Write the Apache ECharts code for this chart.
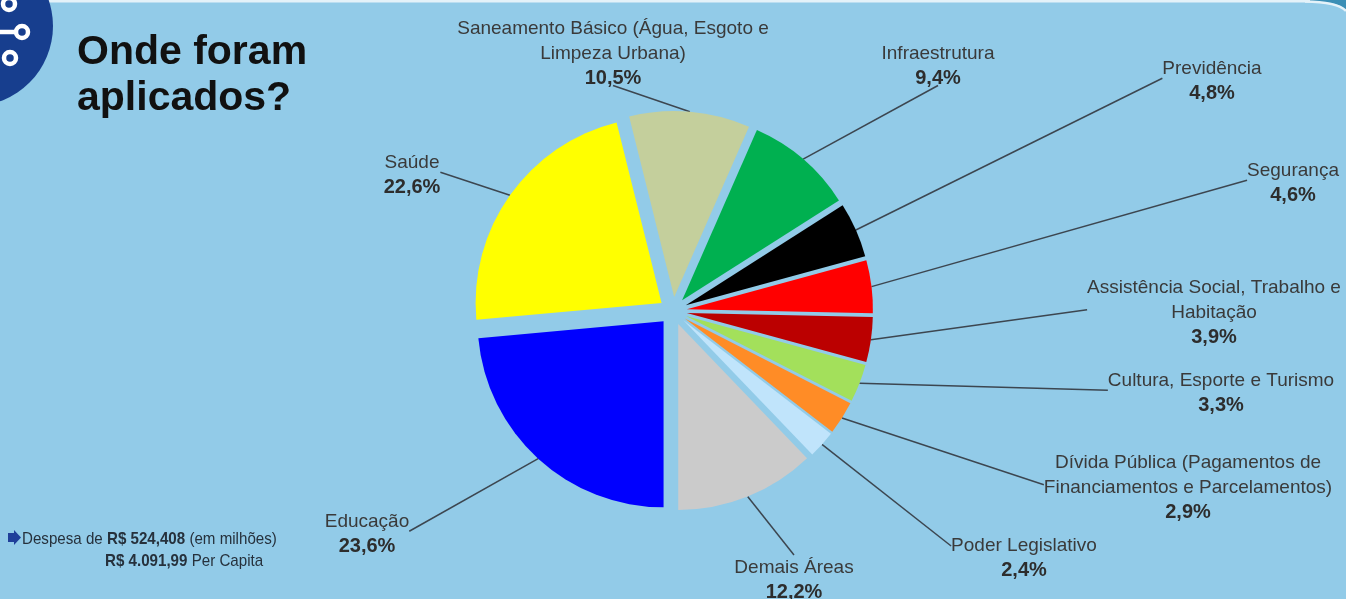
<!DOCTYPE html>
<html>
<head>
<meta charset="utf-8">
<script src="https://cdn.jsdelivr.net/npm/echarts@6/dist/echarts.min.js"></script>
<style>
html, body { margin: 0; padding: 0; background: #92cbe8; }
#chart { width: 1346px; height: 599px; }
</style>
</head>
<body>
<div id="chart"></div>
<script>
// areas in drawing order (clockwise, starting at 6 o'clock)
const categorias = [
  'Educação',
  'Saúde',
  'Saneamento Básico (Água, Esgoto e\nLimpeza Urbana)',
  'Infraestrutura',
  'Previdência',
  'Segurança',
  'Assistência Social, Trabalho e\nHabitação',
  'Cultura, Esporte e Turismo',
  'Dívida Pública (Pagamentos de\nFinanciamentos e Parcelamentos)',
  'Poder Legislativo',
  'Demais Áreas'
];
const percentuais = [23.6, 22.6, 10.5, 9.4, 4.8, 4.6, 3.9, 3.3, 2.9, 2.4, 12.2];

const despesaTotal = '524,408';
const despesaPerCapita = '4.091,99';

const FONT = '"Liberation Sans", Arial, sans-serif';

const chart = echarts.init(document.getElementById('chart'));

const cores = ['#0000ff', '#ffff00', '#c4cf9c', '#00b050', '#000000', '#ff0000',
  '#bb0000', '#a3e05b', '#ff8c26', '#c0e4fb', '#cbcbcb'];

const CENTRO = [673, 311];
const RAIO = 186;
const AFASTAMENTO = 14; // exploded slices

// where each label block sits (center x, top y) and which side the leader line meets
const posRotulos = [
  [367, 509], [412, 150], [613, 16], [938, 41], [1212, 56], [1293, 158],
  [1214, 275], [1221, 368], [1188, 450], [1024, 533], [794, 555]
];
const ladoLinha = ['r', 'r', 'b', 'b', 'l', 'l', 'l', 'l', 'l', 'lt', 't'];

function fmtPct(v) {
  return v.toFixed(1).replace('.', ',') + '%';
}

const richRodape = {
  r: { fontFamily: FONT, fontSize: 17, fill: '#26313c' },
  b: { fontFamily: FONT, fontSize: 17, fontWeight: 'bold', fill: '#26313c' }
};

const option = {
  backgroundColor: '#92cbe8',
  animation: false,
  color: cores,
  title: {
    text: 'Onde foram\naplicados?',
    left: 77,
    top: 30,
    padding: 0,
    textStyle: {
      fontFamily: FONT,
      fontSize: 41,
      fontWeight: 'bold',
      lineHeight: 46,
      color: '#111111'
    }
  },
  graphic: [
    { type: 'rect', shape: { x: 0, y: 0, width: 1346, height: 2.5 }, style: { fill: '#e4f2f9' } },
    {
      type: 'polygon',
      shape: { points: [[1310, 0], [1346, 0], [1346, 11], [1341, 6], [1332, 3], [1320, 2], [1310, 1.5]] },
      style: { fill: '#3b8fb6' }
    },
    {
      type: 'bezierCurve',
      shape: { x1: 1305, y1: 1.5, x2: 1346, y2: 11, cpx1: 1338, cpy1: 2 },
      style: { fill: null, stroke: '#e4f2f9', lineWidth: 2.5 }
    },
    { type: 'circle', shape: { cx: -27, cy: 26, r: 80 }, style: { fill: '#173e8e' } },
    { type: 'circle', shape: { cx: 9, cy: 4, r: 6 }, style: { fill: null, stroke: '#ffffff', lineWidth: 4.5 } },
    { type: 'circle', shape: { cx: 22, cy: 32, r: 6 }, style: { fill: null, stroke: '#ffffff', lineWidth: 4.5 } },
    { type: 'line', shape: { x1: 0, y1: 32, x2: 15, y2: 32 }, style: { stroke: '#ffffff', lineWidth: 4.5 } },
    { type: 'circle', shape: { cx: 10, cy: 58, r: 6 }, style: { fill: null, stroke: '#ffffff', lineWidth: 4.5 } },
    {
      type: 'polygon',
      shape: { points: [[8, 533], [14, 533], [14, 530], [21, 537.5], [14, 545], [14, 542], [8, 542]] },
      style: { fill: '#1f3f9a' }
    },
    {
      type: 'text', x: 22, y: 539, scaleX: 0.89,
      style: {
        text: '{r|Despesa de }{b|R$ ' + despesaTotal + '}{r| (em milhões)}',
        verticalAlign: 'middle',
        rich: richRodape
      }
    },
    {
      type: 'text', x: 105, y: 561, scaleX: 0.89,
      style: {
        text: '{b|R$ ' + despesaPerCapita + '}{r| Per Capita}',
        verticalAlign: 'middle',
        rich: richRodape
      }
    }
  ],
  series: [
    // labels + leader lines, on an invisible ring that touches the exploded edge
    {
      type: 'pie',
      name: 'rotulos',
      z: 1,
      silent: true,
      center: CENTRO,
      radius: RAIO + AFASTAMENTO,
      startAngle: -90,
      avoidLabelOverlap: false,
      data: categorias.map((nome, i) => ({ name: nome, value: percentuais[i] })),
      itemStyle: { color: 'rgba(0,0,0,0)', borderWidth: 0 },
      label: {
        show: true,
        position: 'outside',
        formatter: (p) => {
          const linhas = p.name.split('\n').map(l => '{n|' + l + '}');
          return linhas.join('\n') + '\n{p|' + fmtPct(p.value) + '}';
        },
        rich: {
          n: { fontFamily: FONT, fontSize: 19, color: '#3a3a3a', lineHeight: 25 },
          p: { fontFamily: FONT, fontSize: 20, fontWeight: 'bold', color: '#2d2d2d', lineHeight: 25 }
        }
      },
      labelLine: {
        show: true,
        length: 10,
        length2: 0,
        lineStyle: { color: '#3c4650', width: 1.5 }
      },
      labelLayout: (params) => {
        const i = params.dataIndex;
        const p = posRotulos[i];
        const res = { x: p[0], y: p[1], align: 'center', verticalAlign: 'top' };
        const pts = params.labelLinePoints;
        if (pts && pts.length) {
          const w = params.labelRect.width;
          const h = params.labelRect.height;
          let fim;
          switch (ladoLinha[i]) {
            case 'b': fim = [p[0], p[1] + h]; break;
            case 't': fim = [p[0], p[1]]; break;
            case 'r': fim = [p[0] + w / 2, p[1] + h / 2]; break;
            case 'lt': fim = [p[0] - w / 2, p[1] + 13]; break;
            default: fim = [p[0] - w / 2, p[1] + h / 2];
          }
          res.labelLinePoints = [pts[0], pts[0], fim];
        }
        return res;
      },
      emphasis: { disabled: true }
    },
    // the slices
    {
      type: 'pie',
      name: 'fatias',
      z: 2,
      center: CENTRO,
      radius: RAIO,
      startAngle: -90,
      selectedMode: 'multiple',
      selectedOffset: AFASTAMENTO,
      data: categorias.map((nome, i) => ({ name: nome, value: percentuais[i], selected: true })),
      itemStyle: { borderWidth: 0 },
      label: { show: false },
      labelLine: { show: false },
      emphasis: { disabled: true }
    }
  ]
};

chart.setOption(option);
</script>
</body>
</html>
